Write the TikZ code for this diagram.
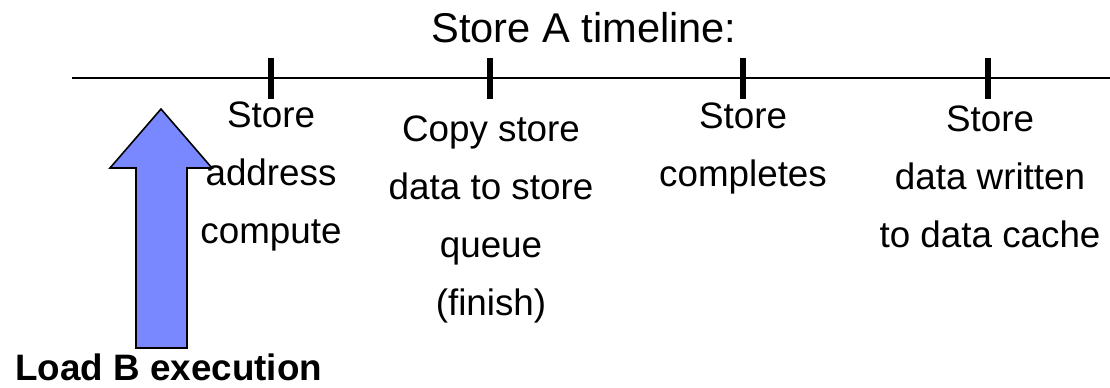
\documentclass[tikz,border=0pt]{standalone}
\usepackage{fontspec}
\setmainfont{Liberation Sans}
\usepackage{xcolor}
\usepackage{tikz}
\definecolor{loadblue}{RGB}{122,136,255}

\begin{document}
\begin{tikzpicture}[x=0.5pt, y=-0.5pt, font=\fontsize{18.4}{29}\selectfont]
    \useasboundingbox (0,0) rectangle (1110,387);

    % store A timeline
    \node[anchor=base,font=\fontsize{20.8}{25}\selectfont] (title) at (584,42) {Store A timeline:};
    \coordinate (tstart) at (72,78);
    \coordinate (tend) at (1110,78);
    \draw[line width=1.2pt] (tstart) -- (tend);
    \foreach \x in {271,490,743,988} {
      \draw[line width=2.6pt] (\x,58) -- (\x,99);
    }

    % events on the timeline
    \node[anchor=north,align=center,inner sep=0pt] (addr) at (271,101) {Store\\address\\compute};
    \node[anchor=north,align=center,inner sep=0pt] (copy) at (491,115) {Copy store\\data to store\\queue\\(finish)};
    \node[anchor=north,align=center,inner sep=0pt] (done) at (743,102) {Store\\completes};
    \node[anchor=north,align=center,inner sep=0pt] (write) at (990,105) {Store\\data written\\to data cache};

    % load B execution
    \draw[fill=loadblue, line width=0.8pt] (136,348) -- (136,168) -- (110,168) -- (161,109)
      -- (212,168) -- (187,168) -- (187,348) -- cycle;
    \node[anchor=base west,inner sep=0pt,font=\bfseries\fontsize{18.4}{22}\selectfont] (load) at (15,380) {Load B execution};
  \end{tikzpicture}
\end{document}
